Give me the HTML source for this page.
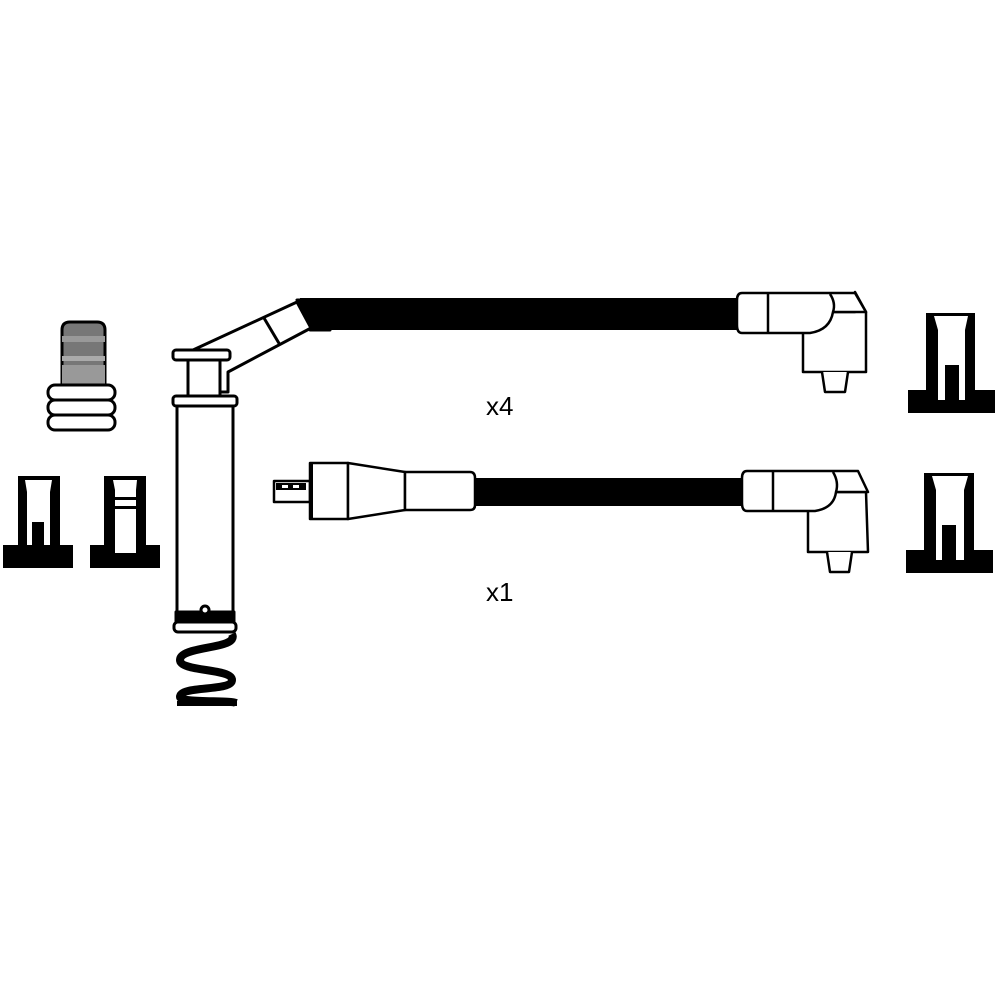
<!DOCTYPE html>
<html><head><style>body{margin:0;background:#fff}svg{display:block}</style></head><body>
<svg width="1000" height="1000" viewBox="0 0 1000 1000" xmlns="http://www.w3.org/2000/svg">
<rect width="1000" height="1000" fill="#fff"/>
<g stroke="#000" stroke-width="3" fill="#fff" stroke-linejoin="round">
<rect x="300" y="298" width="440" height="32" fill="#000" stroke="none"/>
<path d="M297 300 L330 300 L330 330 L310 330 Z" fill="#000"/>
<path d="M193 350 L297 302 L311 328 L228 372 L228 392 L216 392 L216 360 Z"/>
<line x1="264" y1="318" x2="280" y2="345"/>
<rect x="173" y="350" width="57" height="10" rx="3"/>
<rect x="188" y="360" width="32" height="36"/>
<rect x="173" y="396" width="64" height="10" rx="3"/>
<rect x="177" y="406" width="56" height="206"/>
<rect x="176" y="612" width="58" height="10" fill="#000"/>
<rect x="174" y="622" width="62" height="10" rx="4"/>
<circle cx="205" cy="610" r="4" fill="#fff"/>
<path d="M232 634 C240 650 180 645 180 660 C180 672 232 668 232 680 C232 692 180 685 180 697 C180 703 230 700 236 703" fill="none" stroke-width="8"/>
<rect x="177" y="701" width="60" height="5" fill="#000" stroke="none"/>
<path d="M62 330 Q62 322 70 322 L97 322 Q105 322 105 330 L105 385 L62 385 Z" fill="#777"/>
<rect x="62" y="336" width="43" height="6" fill="#999" stroke="none"/>
<rect x="62" y="356" width="43" height="5" fill="#aaa" stroke="none"/>
<rect x="62" y="365" width="43" height="19" fill="#999" stroke="none"/>
<rect x="48" y="385" width="67" height="15" rx="7"/>
<rect x="48" y="400" width="67" height="15" rx="7"/>
<rect x="48" y="415" width="67" height="15" rx="7"/>
</g>
<g fill="#000">
<path d="M3 545 L18 545 L18 476 L60 476 L60 545 L73 545 L73 568 L3 568 Z"/>
<path d="M25 480 L52 480 L50 492 L50 545 L27 545 L27 492 Z" fill="#fff"/>
<rect x="32" y="522" width="12" height="23"/>
<path d="M90 545 L104 545 L104 476 L146 476 L146 545 L160 545 L160 568 L90 568 Z"/>
<path d="M113 480 L137 480 L136 490 L136 553 L115 553 L115 490 Z" fill="#fff"/>
<rect x="115" y="497" width="21" height="3"/><rect x="115" y="506" width="21" height="3"/>
<path d="M908 390 L926 390 L926 313 L975 313 L975 390 L995 390 L995 413 L908 413 Z"/>
<path d="M934 316 L968 316 L965 330 L965 400 L938 400 L938 330 Z" fill="#fff"/>
<rect x="945" y="365" width="14" height="36"/>
<path d="M906 550 L924 550 L924 473 L974 473 L974 550 L993 550 L993 573 L906 573 Z"/>
<path d="M932 476 L968 476 L964 490 L964 560 L936 560 L936 490 Z" fill="#fff"/>
<rect x="942" y="525" width="14" height="36"/>
</g>
<g stroke="#000" stroke-width="2.5" fill="#fff" stroke-linejoin="round">
<path d="M803 312 L855 312 L855 292 L866 312 L866 372 L803 372 Z"/>
<path d="M848 372 L845 392 L825 392 L822 372"/>
<path d="M742 293 L855 293 L866 312 L833 312 Q830 330 810 333 L742 333 Q737 333 737 325 L737 300 Q737 293 742 293 Z"/>
<line x1="768" y1="293" x2="768" y2="333"/>
<path d="M830 294 Q836 303 833 312" fill="none"/>
<rect x="475" y="478" width="268" height="28" fill="#000" stroke="none"/>
<path d="M808 492 L866 492 L868 552 L808 552 Z"/>
<path d="M852 552 L849 572 L830 572 L827 552"/>
<path d="M747 471 L858 471 L868 492 L836 492 Q834 508 815 511 L747 511 Q742 511 742 503 L742 478 Q742 471 747 471 Z"/>
<line x1="773" y1="471" x2="773" y2="511"/>
<path d="M833 472 Q839 482 836 492" fill="none"/>
<rect x="274" y="481" width="36" height="21"/>
<rect x="276" y="483" width="30" height="7" fill="#000" stroke="none"/>
<rect x="282" y="485" width="6" height="3" fill="#fff" stroke="none"/><rect x="293" y="485" width="6" height="3" fill="#fff" stroke="none"/>
<rect x="310" y="463" width="38" height="56"/>
<rect x="309" y="463" width="4" height="57" fill="#000" stroke="none"/>
<path d="M348 463 L405 472 L405 510 L348 519 Z"/>
<path d="M405 472 L470 472 Q475 472 475 478 L475 505 Q475 510 470 510 L405 510 Z"/>
</g>
<g font-family="Liberation Sans, sans-serif" font-size="26" fill="#000">
<text x="486" y="415">x4</text>
<text x="486" y="601">x1</text>
</g>
</svg>
</body></html>
